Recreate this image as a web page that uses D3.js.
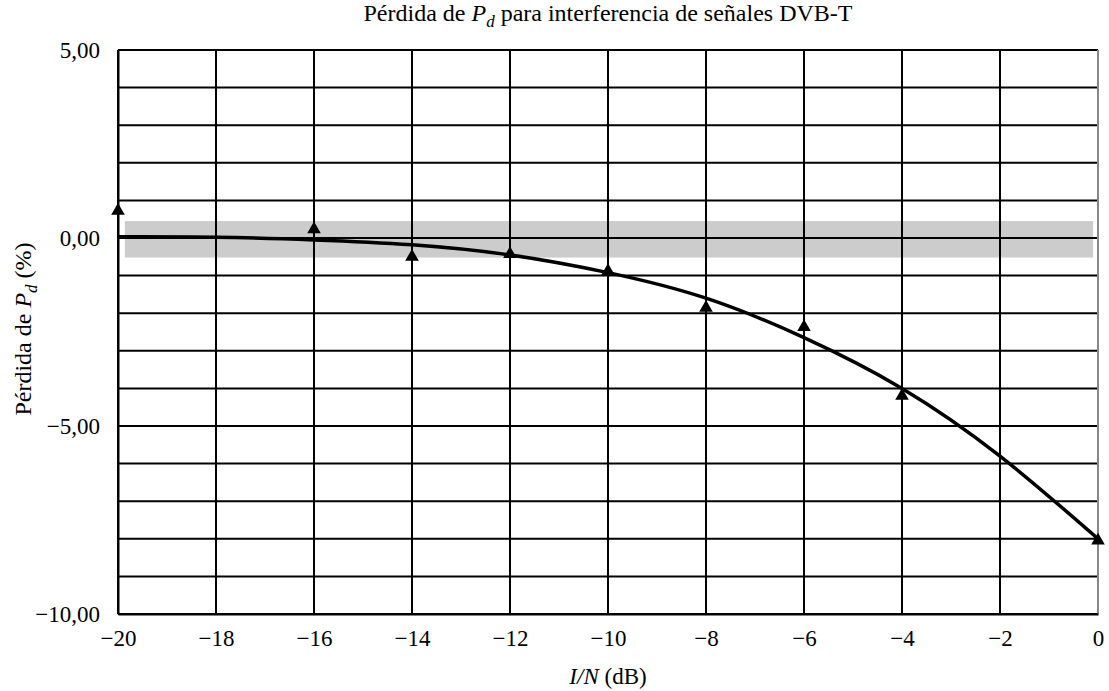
<!DOCTYPE html>
<html>
<head>
<meta charset="utf-8">
<script src="https://cdn.jsdelivr.net/npm/d3@7"></script>
<style>
  body { margin: 0; background: #fff; }
  text { font-family: "Liberation Serif", "Times New Roman", serif; fill: #000; }
</style>
</head>
<body>
<div class="graph"></div>
<script>
// measured points (triangles)
var measX = [-20, -16, -14, -12, -10, -8, -6, -4, 0];
var measY = [0.72, 0.23, -0.5, -0.43, -0.88, -1.86, -2.37, -4.2, -8.05];

// fitted curve
var fitX = [-20, -18, -16, -14, -12, -10, -8, -6, -4, -2, 0];
var fitY = [0.03, 0.02, -0.05, -0.18, -0.45, -0.92, -1.6, -2.65, -4.0, -5.8, -8.0];

// grey tolerance band
var bandX = [-19.86, -0.1];
var bandY = [0.45, -0.52];

var xTicks = [-20, -18, -16, -14, -12, -10, -8, -6, -4, -2, 0];
var yTicks = [5, 0, -5, -10];
var yGrid = d3.range(5, -10.5, -1);

var loadChart = function () {
    const WIDTH = 1109, HEIGHT = 691;
    const LEFT = 118, RIGHT = 1098, TOP = 50, BOTTOM = 614;
    const SERIF = "'Liberation Serif', 'Times New Roman', serif";

    var x = d3.scaleLinear().domain([-20, 0]).range([LEFT, RIGHT]);
    var y = d3.scaleLinear().domain([-10, 5]).range([BOTTOM, TOP]);

    var svg = d3.select(".graph").append("svg")
        .attr("width", WIDTH)
        .attr("height", HEIGHT);

    // band
    svg.append("rect")
        .attr("x", x(bandX[0]))
        .attr("y", y(bandY[0]))
        .attr("width", x(bandX[1]) - x(bandX[0]))
        .attr("height", y(bandY[1]) - y(bandY[0]))
        .style("fill", "#cccccc");

    // grid
    svg.append("g").selectAll("line").data(yGrid).join("line")
        .attr("x1", LEFT).attr("x2", RIGHT)
        .attr("y1", d => y(d)).attr("y2", d => y(d))
        .style("stroke", "#000").style("stroke-width", 2);

    svg.append("g").selectAll("line").data(xTicks).join("line")
        .attr("x1", d => x(d)).attr("x2", d => x(d))
        .attr("y1", TOP).attr("y2", BOTTOM)
        .style("stroke", d => d === 0 ? "#888" : "#000")
        .style("stroke-width", 2);

    // axes
    var xAxis = d3.axisBottom(x).tickValues(xTicks).tickSize(0).tickPadding(16)
        .tickFormat(d => d < 0 ? "\u2212" + Math.abs(d) : d);
    svg.append("g")
        .attr("transform", "translate(0," + BOTTOM + ")")
        .call(xAxis)
        .attr("font-family", SERIF)
        .attr("font-size", 23)
        .call(g => g.select(".domain").style("stroke", "#000").style("stroke-width", 2));

    var yAxis = d3.axisLeft(y).tickValues(yTicks).tickSize(0).tickPadding(18)
        .tickFormat(d => (d < 0 ? "\u2212" : "") + Math.abs(d).toFixed(2).replace(".", ","));
    svg.append("g")
        .attr("transform", "translate(" + LEFT + ",0)")
        .call(yAxis)
        .attr("font-family", SERIF)
        .attr("font-size", 23)
        .call(g => g.select(".domain").style("stroke", "#000").style("stroke-width", 2));

    // fitted line
    var line = d3.line()
        .x(d => x(d[0]))
        .y(d => y(d[1]))
        .curve(d3.curveNatural);
    svg.append("path")
        .datum(d3.zip(fitX, fitY))
        .attr("d", line)
        .style("fill", "none")
        .style("stroke", "#000")
        .style("stroke-width", 3.5);

    // triangles
    var tri = d3.symbol().type(d3.symbolTriangle).size(80);
    svg.append("g").selectAll("path").data(d3.zip(measX, measY)).join("path")
        .attr("d", tri)
        .attr("transform", d => "translate(" + x(d[0]) + "," + y(d[1]) + ")")
        .style("fill", "#000");

    // title
    var t = svg.append("text")
        .attr("x", (LEFT + RIGHT) / 2)
        .attr("y", 21)
        .attr("text-anchor", "middle")
        .style("font-size", "24px");
    t.append("tspan").text("Pérdida de ");
    t.append("tspan").style("font-style", "italic").text("P");
    t.append("tspan").style("font-style", "italic").style("font-size", "17px").attr("dy", 6).text("d");
    t.append("tspan").attr("dy", -6).text(" para interferencia de señales DVB-T");

    // x label
    var xl = svg.append("text")
        .attr("x", (LEFT + RIGHT) / 2)
        .attr("y", 684)
        .attr("text-anchor", "middle")
        .style("font-size", "23px");
    xl.append("tspan").style("font-style", "italic").text("I/N");
    xl.append("tspan").text(" (dB)");

    // y label
    var yl = svg.append("text")
        .attr("transform", "translate(31," + ((TOP + BOTTOM) / 2 - 3) + ") rotate(-90)")
        .attr("text-anchor", "middle")
        .style("font-size", "24px");
    yl.append("tspan").text("Pérdida de ");
    yl.append("tspan").style("font-style", "italic").text("P");
    yl.append("tspan").style("font-style", "italic").style("font-size", "17px").attr("dy", 6).text("d");
    yl.append("tspan").attr("dy", -6).text(" (%)");
};

window.onload = loadChart;
</script>
</body>
</html>
